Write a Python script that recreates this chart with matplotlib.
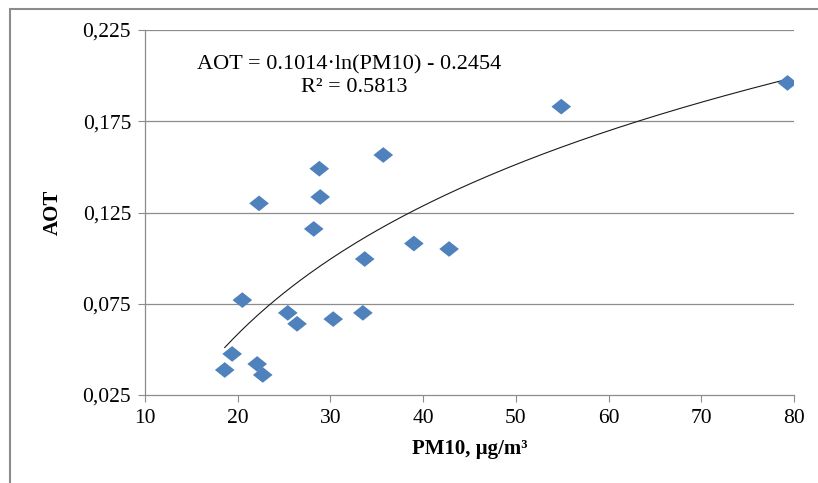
import numpy as np
import matplotlib
matplotlib.use("Agg")
import matplotlib.pyplot as plt
from matplotlib.patches import Rectangle
from matplotlib.ticker import FuncFormatter

pm10 = [18.6, 19.4, 20.5, 22.1, 22.7, 22.3, 25.4, 26.4, 28.2, 28.8, 28.9, 30.3,
        33.5, 33.7, 35.7, 39.0, 42.8, 54.9, 79.3]
aot = [0.0387, 0.0475, 0.077, 0.042, 0.036, 0.130, 0.070, 0.064, 0.116, 0.149,
       0.1335, 0.0666, 0.070, 0.0995, 0.1565, 0.108, 0.105, 0.183, 0.196]
coef_a = 0.1014
coef_b = -0.2454
r2 = 0.5813
xticks = [10, 20, 30, 40, 50, 60, 70, 80]
yticks = [0.025, 0.075, 0.125, 0.175, 0.225]

plt.rcParams['font.family'] = ['Liberation Serif', 'DejaVu Serif']

fig = plt.figure(figsize=(8.18, 4.83), dpi=100)
ax = fig.add_axes([145/818, 1-395/483, (794-145)/818, (395-30)/483])

# outer chart frame (cropped at right/bottom)
fig.patches.append(Rectangle((10/818, -0.05), 1.0, 474/483 + 0.05,
                             transform=fig.transFigure, fill=False,
                             edgecolor='#8c8c8c', linewidth=1.5))

for y in yticks[1:]:
    ax.axhline(y, color='#8c8c8c', linewidth=0.9, zorder=0)

diamond = [(-1, 0), (0, 0.8), (1, 0), (0, -0.8), (-1, 0)]
ax.scatter(pm10, aot, marker=diamond, s=200, color='#4F81BD', edgecolors='none', zorder=3)

xs = np.linspace(min(pm10), max(pm10), 200)
ax.plot(xs, coef_a*np.log(xs) + coef_b, color='#1a1a1a', linewidth=0.8, zorder=2)

ax.set_xlim(10, 80)
ax.set_ylim(0.025, 0.225)
ax.set_xticks(xticks)
ax.set_yticks(yticks)
ax.yaxis.set_major_formatter(FuncFormatter(lambda v, p: f"{v:.3f}".replace('.', ',')))
ax.tick_params(axis='both', direction='out', length=5, color='#8c8c8c',
               labelsize=15.5, pad=5)
for s in ['top', 'right']:
    ax.spines[s].set_visible(False)
for s in ['left', 'bottom']:
    ax.spines[s].set_color('#8c8c8c')
    ax.spines[s].set_linewidth(0.9)

ax.set_xlabel('PM10, µg/m³', fontsize=15, fontweight='bold', labelpad=8)
ax.set_ylabel('AOT', fontsize=15, fontweight='bold', labelpad=14)

fig.text(349/818, 1-65/483, f'AOT = {coef_a:.4f}·ln(PM10) - {abs(coef_b):.4f}',
         fontsize=16, ha='center', va='center')
fig.text(354/818, 1-88/483, f'R² = {r2:.4f}', fontsize=16, ha='center', va='center')

fig.savefig('out.png', dpi=100)
